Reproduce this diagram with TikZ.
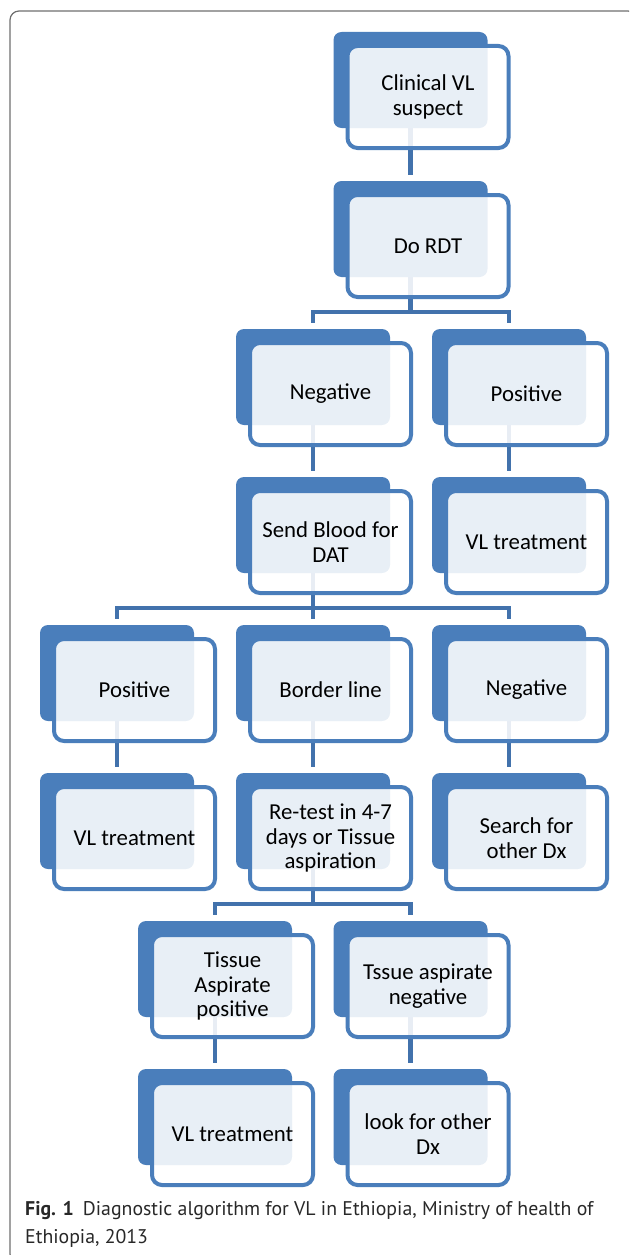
\documentclass[tikz,border=0pt]{standalone}
\usepackage{fontspec}
\setmainfont{Carlito}
\newfontfamily\capfont{PT Sans}
\usetikzlibrary{calc}
\pgfdeclarelayer{background}
\pgfsetlayers{background,main}
\definecolor{boxblue}{RGB}{74,126,187}
\definecolor{linkblue}{RGB}{66,114,172}
\definecolor{framegrey}{RGB}{110,110,110}
\definecolor{captext}{RGB}{40,40,40}
\tikzset{
  backbox/.style={fill=boxblue, rounded corners=8pt, minimum width=154pt, minimum height=96pt, inner sep=0pt},
  frontbox/.style={draw=boxblue, line width=4pt, fill=white, fill opacity=0.88, text opacity=1,
    rounded corners=10pt, minimum width=161pt, minimum height=102pt, inner sep=0pt,
    align=center, font=\fontsize{22.8}{24.5}\selectfont, text=black},
  link/.style={draw=linkblue, line width=4.5pt},
  captionstyle/.style={anchor=base west, inner sep=0pt, text=captext, font=\capfont\fontsize{19.8}{28}\selectfont},
}
\newcommand\mkbox[4]{%
  \node[backbox] (b#1) at (#2,-#3) {};
  \node[frontbox] (f#1) at ($(#2,-#3)+(17.5,-17)$) {#4};
}
\begin{document}
\begin{tikzpicture}[x=1pt,y=1pt]
\useasboundingbox (0,0) rectangle (629,-1255);
\begin{scope}
  \clip (0,0) rectangle (629,-1255);
  \draw[framegrey, line width=1.2pt, rounded corners=9pt] (10,-11) rectangle (637,-1263);
\end{scope}
% level 1-2
\mkbox{1}{410.5}{80}{Clinical VL\\suspect}
\mkbox{2}{410.5}{229}{Do RDT}
% level 3
\mkbox{3}{313}{377}{Negative}
\mkbox{4}{509}{377}{Positive}
% level 4
\mkbox{5}{313}{525}{Send Blood for\\DAT}
\mkbox{6}{509}{525}{VL treatment}
% level 5
\mkbox{7}{117}{673}{Positive}
\mkbox{8}{313}{673}{Border line}
\mkbox{9}{509}{673}{Negative}
% level 6
\mkbox{10}{117}{821}{VL treatment}
\mkbox{11}{313}{821}{Re-test in 4-7\\days or Tissue\\aspiration}
\mkbox{12}{509}{821}{Search for\\other Dx}
% level 7
\mkbox{13}{215}{969}{Tissue\\Aspirate\\positive}
\mkbox{14}{410.5}{969}{Tssue aspirate\\negative}
% level 8
\mkbox{15}{215}{1117}{VL treatment}
\mkbox{16}{410.5}{1117}{look for other\\Dx}
% connectors
\begin{pgfonlayer}{background}
  \draw[link] (b1.south) -- ($(b2.north)+(0,6)$);
  \draw[link] (b2.south) |- ($(b3.north)+(0,17)$) -- ($(b3.north)+(0,6)$);
  \draw[link] (b2.south) |- ($(b4.north)+(0,17)$) -- ($(b4.north)+(0,6)$);
  \draw[link] (b3.south) -- ($(b5.north)+(0,6)$);
  \draw[link] (b4.south) -- ($(b6.north)+(0,6)$);
  \draw[link] (b5.south) |- ($(b7.north)+(0,17)$) -- ($(b7.north)+(0,6)$);
  \draw[link] (b5.south) -- ($(b8.north)+(0,6)$);
  \draw[link] (b5.south) |- ($(b9.north)+(0,17)$) -- ($(b9.north)+(0,6)$);
  \draw[link] (b7.south) -- ($(b10.north)+(0,6)$);
  \draw[link] (b8.south) -- ($(b11.north)+(0,6)$);
  \draw[link] (b9.south) -- ($(b12.north)+(0,6)$);
  \draw[link] (b11.south) |- ($(b13.north)+(0,17)$) -- ($(b13.north)+(0,6)$);
  \draw[link] (b11.south) |- ($(b14.north)+(0,17)$) -- ($(b14.north)+(0,6)$);
  \draw[link] (b13.south) -- ($(b15.north)+(0,6)$);
  \draw[link] (b14.south) -- ($(b16.north)+(0,6)$);
\end{pgfonlayer}
% caption
\node[captionstyle] (cap1) at (25,-1215) {\textbf{Fig. 1}\hspace{9pt}Diagnostic algorithm for VL in Ethiopia, Ministry of health of};
\node[captionstyle] (cap2) at (25,-1243) {Ethiopia, 2013};
\end{tikzpicture}
\end{document}
